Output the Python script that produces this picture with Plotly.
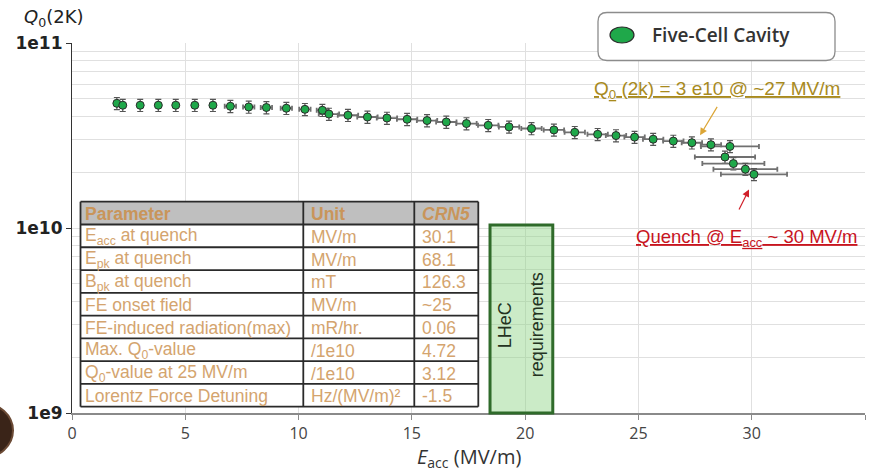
import plotly.graph_objects as go

# ---------------- data ----------------
e_acc = [1.98, 2.24, 3.01, 3.81, 4.58, 5.42, 6.22, 6.99, 7.80, 8.58, 9.46, 10.28, 11.05, 11.34,
         12.18, 13.04, 13.90, 14.79, 15.67, 16.52, 17.41, 18.37, 19.29, 20.28,
         21.27, 22.19, 23.20, 24.01, 24.83, 25.65, 26.54, 27.36, 28.20, 29.04,
         28.82, 29.19, 29.72, 30.10]
q0 = [4.72e10, 4.61e10, 4.61e10, 4.61e10, 4.61e10, 4.61e10, 4.61e10, 4.55e10, 4.51e10, 4.48e10,
      4.44e10, 4.38e10, 4.33e10, 4.13e10,
      4.07e10, 3.98e10, 3.93e10, 3.87e10, 3.81e10, 3.74e10, 3.67e10, 3.59e10, 3.52e10, 3.45e10,
      3.39e10, 3.29e10, 3.21e10, 3.16e10, 3.10e10, 3.02e10, 2.95e10, 2.89e10, 2.82e10, 2.76e10,
      2.42e10, 2.23e10, 2.08e10, 1.95e10]
e_err = [0.1] * 7 + [0.25] * 6 + [0.45] * 20 + [1.28, 1.33, 1.37, 1.41, 1.46]
q_err_pct = 7.5

x_ticks = [0, 5, 10, 15, 20, 25, 30, 35]
y_ticks = [1e9, 1e10, 1e11]
y_ticktext = ["<b>1e9</b>", "<b>1e10</b>", "<b>1e11</b>"]
y_minor = [k * 10 ** n for n in (9, 10) for k in range(2, 10)]

series_name = "Five-Cell Cavity"

table_header = ["<b>Parameter</b>", "<b>Unit</b>", "<b><i>CRN5</i></b>"]
table_params = ["E<sub>acc</sub> at quench", "E<sub>pk</sub> at quench", "B<sub>pk</sub> at quench",
                "FE onset field", "FE-induced radiation(max)", "Max. Q<sub>0</sub>-value",
                "Q<sub>0</sub>-value at 25 MV/m", "Lorentz Force Detuning"]
table_units = ["MV/m", "MV/m", "mT", "MV/m", "mR/hr.", "/1e10", "/1e10", "Hz/(MV/m)²"]
table_crn5 = ["30.1", "68.1", "126.3", "~25", "0.06", "4.72", "3.12", "-1.5"]

lhec_range = [18.45, 21.22]

# ---------------- layout helpers ----------------
W, H = 871, 476
L, R, T, B = 72, 6, 43, 63
PW, PH = W - L - R, H - T - B


def px(x):
    return (x - L) / PW


def py(y):
    return (H - B - y) / PH


fig = go.Figure()

fig.add_trace(go.Scatter(
    x=e_acc, y=q0, mode="markers", showlegend=False, name=series_name,
    marker=dict(size=8, color="#1fa84a", line=dict(color="#2b2b2b", width=1)),
    error_y=dict(type="percent", value=q_err_pct, color="#555555", thickness=1.2, width=3),
    error_x=dict(type="data", array=e_err, color="#707070", thickness=1.8, width=2.5),
))

grid_c = "#e0e0e0"
fig.update_xaxes(range=[0, 35], tickvals=x_ticks, showgrid=True, gridcolor=grid_c, gridwidth=1.2,
                 showline=True, linecolor="#8a8a8a", linewidth=1.5, ticks="outside", ticklen=5,
                 tickcolor="#8a8a8a", zeroline=False, automargin=False,
                 tickfont=dict(family="Open Sans", size=16, color="#444444"))
fig.update_yaxes(type="log", range=[9, 11], tickvals=y_ticks, ticktext=y_ticktext,
                 showgrid=True, gridcolor=grid_c, gridwidth=1.2,
                 minor=dict(tickvals=y_minor, showgrid=True, gridcolor=grid_c, gridwidth=1.2, ticks=""),
                 showline=True, linecolor="#333333", linewidth=1.2, ticks="outside", ticklen=5,
                 tickcolor="#333333", zeroline=False, automargin=False,
                 tickfont=dict(family="DejaVu Sans", size=17, color="#222222"))


def rounded_rect(x0, y0, x1, y1, r):
    X0, X1 = px(x0), px(x1)
    Y0, Y1 = py(y1), py(y0)  # bottom, top
    rx, ry = r / PW, r / PH
    return (f"M {X0+rx},{Y0} L {X1-rx},{Y0} Q {X1},{Y0} {X1},{Y0+ry} L {X1},{Y1-ry} "
            f"Q {X1},{Y1} {X1-rx},{Y1} L {X0+rx},{Y1} Q {X0},{Y1} {X0},{Y1-ry} "
            f"L {X0},{Y0+ry} Q {X0},{Y0} {X0+rx},{Y0} Z")


def pshape(kind, x0, y0, x1, y1, **kw):
    return dict(type=kind, xref="paper", yref="paper", x0=px(x0), x1=px(x1),
                y0=py(y1), y1=py(y0), layer="above", **kw)


shapes = [
    # legend box
    dict(type="path", xref="paper", yref="paper", path=rounded_rect(598, 12.5, 835, 60.5, 9),
         fillcolor="white", line=dict(color="#8c8c8c", width=1.3), layer="above"),
    pshape("circle", 610, 27, 634, 43, fillcolor="#1fa84a", line=dict(color="#2b2b2b", width=1.2)),
    # LHeC requirements box
    dict(type="rect", xref="x", yref="y domain", x0=lhec_range[0], x1=lhec_range[1],
         y0=0, y1=py(225), fillcolor="rgba(140,210,130,0.45)",
         line=dict(color="#2f6b2a", width=3), layer="above"),
    # dark object at bottom-left edge
    pshape("circle", -48, 403, 13, 458, fillcolor="#3a2418", line=dict(color="#6b4a35", width=2)),
]

# ---- table built from shapes + text ----
tab_x = [80.5, 303.3, 414.3, 478.3]
tab_top = 201.7
row_h = 22.78
n_rows = len(table_params) + 1
tab_bot = tab_top + row_h * n_rows
line_c = dict(color="#2a2a2a", width=1.8)
shapes.append(pshape("rect", tab_x[0], tab_top, tab_x[-1], tab_top + row_h,
                     fillcolor="#bfbfbf", line=dict(width=0)))
shapes.append(pshape("rect", tab_x[0], tab_top + row_h, tab_x[-1], tab_bot,
                     fillcolor="white", line=dict(width=0)))
for i in range(n_rows + 1):
    yy = tab_top + i * row_h
    shapes.append(pshape("line", tab_x[0], yy, tab_x[-1], yy, line=line_c))
for xx in tab_x:
    shapes.append(pshape("line", xx, tab_top, xx, tab_bot, line=line_c))

gold = "#a88a1e"
red = "#c8141e"
annotations = [
    dict(xref="paper", yref="paper", x=px(22), y=py(18), xanchor="left", yanchor="middle",
         text="<i>Q</i><sub>0</sub>(2K)", showarrow=False,
         font=dict(family="DejaVu Sans", size=18, color="#222222")),
    dict(xref="paper", yref="paper", x=px(469), y=py(457), xanchor="center", yanchor="middle",
         text="<i>E</i><sub>acc</sub> (MV/m)", showarrow=False,
         font=dict(family="Open Sans", size=20, color="#333333")),
    dict(xref="paper", yref="paper", x=px(650), y=py(35), xanchor="left", yanchor="middle",
         text=series_name, showarrow=False,
         font=dict(family="Open Sans", size=19, weight=600, color="#333333")),
    dict(xref="paper", yref="paper", x=px(716.7), y=py(90), xanchor="center", yanchor="middle",
         text="<u>Q<sub>0</sub> (2k) = 3 e10 @ ~27 MV/m</u>", showarrow=False,
         font=dict(family="Liberation Sans, Arial", size=19, color=gold)),
    dict(xref="paper", yref="paper", x=px(746.3), y=py(238), xanchor="center", yanchor="middle",
         text="<u>Quench @ E<sub>acc</sub> ~ 30 MV/m</u>", showarrow=False,
         font=dict(family="Liberation Sans, Arial", size=18.5, color=red)),
    # arrows
    dict(xref="x", yref="y", x=27.72, y=10.501, ax=18, ay=-30, axref="pixel", ayref="pixel",
         text="", showarrow=True, arrowhead=2, arrowsize=1.2, arrowwidth=1.2, arrowcolor="#dba535"),
    dict(xref="x", yref="y", x=29.88, y=10.208, ax=-10.7, ay=21.4, axref="pixel", ayref="pixel",
         text="", showarrow=True, arrowhead=2, arrowsize=1.2, arrowwidth=1.2, arrowcolor="#d0202a"),
    # LHeC text
    dict(xref="paper", yref="paper", x=px(505.3), y=py(325), text="LHeC", textangle=-90,
         xanchor="center", yanchor="middle",
         showarrow=False, font=dict(family="Liberation Sans, Arial", size=18, color="#24331f")),
    dict(xref="paper", yref="paper", x=px(537.3), y=py(325), text="requirements", textangle=-90,
         xanchor="center", yanchor="middle",
         showarrow=False, font=dict(family="Liberation Sans, Arial", size=18, color="#24331f")),
]

col_pad = [2, 6, 6]
columns = [[table_header[0]] + table_params,
           [table_header[1]] + table_units,
           [table_header[2]] + table_crn5]
for c, col in enumerate(columns):
    for r, txt in enumerate(col):
        annotations.append(dict(
            xref="paper", yref="paper", x=px(tab_x[c] + col_pad[c]),
            y=py(tab_top + (r + 0.5) * row_h + 1), xanchor="left", yanchor="middle",
            text=txt, showarrow=False,
            font=dict(family="Liberation Sans, Arial", size=17.5,
                      color="#c9955a" if r == 0 else "#d4a46e")))

fig.update_layout(
    width=W, height=H,
    margin=dict(l=L, r=R, t=T, b=B, autoexpand=False),
    plot_bgcolor="white", paper_bgcolor="white",
    shapes=shapes, annotations=annotations,
    showlegend=False,
)

fig.write_html("out.html", config={"displayModeBar": False},
               post_script="document.body.style.margin='0px';document.body.style.padding='0px';")
